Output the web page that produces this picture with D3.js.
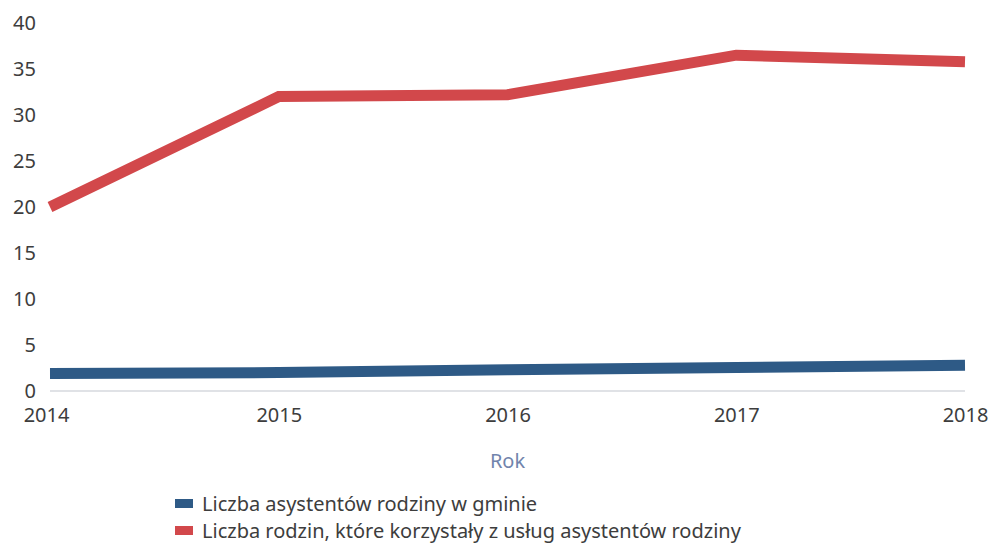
<!DOCTYPE html>
<html>
<head>
	<meta charset="utf-8">
	<title>Asystenci rodziny</title>
	<script src="https://cdn.jsdelivr.net/npm/d3@7"></script>
	<style>
	body { margin: 0; background: #fff; }
	text { font-family: "Noto Sans", "Open Sans", sans-serif; fill: #3d3d3d; }
	.axis path.domain { display: none; }
	.axis line { display: none; }
	</style>
</head>
<body>
	<svg id="chart"></svg>
	<script>
	// data
	var years = [2014, 2015, 2016, 2017, 2018];
	var asystenci = [1.9, 2.0, 2.3, 2.55, 2.8];
	var rodziny = [20, 32, 32.2, 36.5, 35.8];
	var yTicks = [0, 5, 10, 15, 20, 25, 30, 35, 40];
	var seriesNames = ["Liczba asystentów rodziny w gminie", "Liczba rodzin, które korzystały z usług asystentów rodziny"];
	var seriesColors = ["#2e5a86", "#d2484b"];

	var width = 990, height = 544;
	var margin = {top: 23, right: 25, bottom: 153, left: 50};

	var svg = d3.select("#chart")
		.attr("width", width)
		.attr("height", height);

	var x = d3.scalePoint().domain(years).range([margin.left, width - margin.right]);
	var y = d3.scaleLinear().domain([0, 40]).range([height - margin.bottom, margin.top]);

	// zero baseline
	svg.append("line")
		.attr("x1", x(2014)).attr("x2", x(2018))
		.attr("y1", y(0)).attr("y2", y(0))
		.style("stroke", "#d6d8de")
		.style("stroke-width", "1.5px");

	// y axis labels
	svg.append("g")
		.attr("class", "axis")
		.attr("transform", "translate(" + (margin.left - 14) + ",0)")
		.call(d3.axisLeft(y).tickValues(yTicks).tickSize(0).tickPadding(0))
		.selectAll("text")
		.style("font-size", "20px")
		.style("fill", "#3d3d3d");

	// x axis labels
	var xAxis = svg.append("g")
		.attr("class", "axis")
		.attr("transform", "translate(0," + (y(0) + 13) + ")")
		.call(d3.axisBottom(x).tickFormat(d3.format("d")).tickSize(0).tickPadding(4));
	xAxis.selectAll("text")
		.style("font-size", "20px")
		.style("fill", "#3d3d3d")
		.attr("dx", function (d, i) { return i == 0 ? -4 : 0; });

	svg.append("text")
		.attr("x", (x(2014) + x(2018)) / 2)
		.attr("y", 468)
		.attr("text-anchor", "middle")
		.style("font-size", "20px")
		.style("fill", "#7184ac")
		.text("Rok");

	var line = d3.line()
		.x(function (d, i) { return x(years[i]); })
		.y(function (d) { return y(d); });

	[asystenci, rodziny].forEach(function (s, i) {
		svg.append("path")
			.datum(s)
			.attr("d", line)
			.style("fill", "none")
			.style("stroke", seriesColors[i])
			.style("stroke-width", "11px")
			.style("stroke-linejoin", "miter");
	});

	// legend
	var legend = svg.append("g").attr("transform", "translate(175,493)");
	seriesNames.forEach(function (name, i) {
		legend.append("rect")
			.attr("x", 0).attr("y", i * 27 + 6)
			.attr("width", 18).attr("height", 9)
			.style("fill", seriesColors[i]);
		legend.append("text")
			.attr("x", 27).attr("y", i * 27 + 18)
			.style("font-size", "20px")
			.style("fill", "#3d3d3d")
			.text(name);
	});
	</script>
</body>
</html>
